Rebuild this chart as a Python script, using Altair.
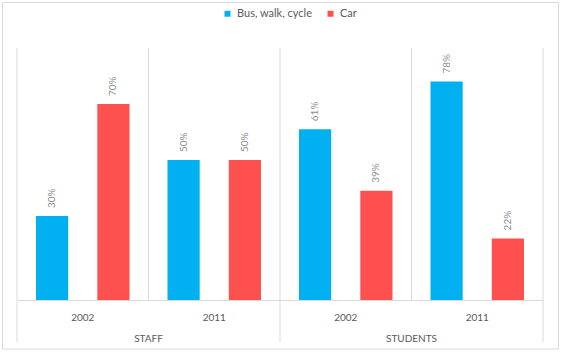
import altair as alt
import pandas as pd

groups = ["STAFF", "STAFF", "STUDENTS", "STUDENTS"]
years = ["2002", "2011", "2002", "2011"]
bus = [30, 50, 61, 78]
car = [70, 50, 39, 22]
series = ["Bus, walk, cycle", "Car"]
colors = ["#00B0F0", "#FF5050"]

keys = [g + "|" + y for g, y in zip(groups, years)]
rows = []
for k, g, yr, b, c in zip(keys, groups, years, bus, car):
    rows.append({"key": k, "group": g, "year": yr, "series": series[0], "value": b, "label": f"{b}%"})
    rows.append({"key": k, "group": g, "year": yr, "series": series[1], "value": c, "label": f"{c}%"})
df = pd.DataFrame(rows)

sep_df = pd.DataFrame({"key": keys, "long": [True, False, True, False]})
grp_df = pd.DataFrame({"key": [keys[1], keys[3]], "group": [groups[0], groups[2]]})
one = pd.DataFrame({"a": [1]})

W, H = 526, 252
FONT = "Lato"
GRID = "#D9D9D9"

xscale = alt.Scale(domain=keys, paddingInner=0, paddingOuter=0)
xaxis = alt.Axis(title=None, labelExpr="split(datum.label, '|')[1]", ticks=False,
                 domain=True, domainColor=GRID, labelPadding=12, labelFontSize=10,
                 labelColor="#595959", labelFont=FONT, labelAngle=0, grid=False)
xoff = alt.XOffset("series:N", scale=alt.Scale(domain=series, paddingInner=0.475, paddingOuter=0.31))
yenc = alt.Y("value:Q", scale=alt.Scale(domain=[0, 90]), axis=None)

bars = alt.Chart(df).mark_bar().encode(
    x=alt.X("key:N", scale=xscale, axis=xaxis),
    xOffset=xoff,
    y=yenc,
    color=alt.Color("series:N", scale=alt.Scale(domain=series, range=colors),
                    legend=alt.Legend(orient="none", legendX=205, legendY=-40,
                                      direction="horizontal", title=None,
                                      symbolType="square", symbolSize=36,
                                      symbolStrokeWidth=0, labelFont=FONT,
                                      labelFontSize=11, labelColor="#595959",
                                      columnPadding=12)),
)

labels = alt.Chart(df).mark_text(angle=270, align="left", baseline="middle", dx=8,
                                 fontSize=10, color="#8C8C8C", font=FONT).encode(
    x=alt.X("key:N", scale=xscale, axis=xaxis),
    xOffset=xoff,
    y=yenc,
    text="label:N",
)

seps = alt.Chart(sep_df).mark_rule(color=GRID, strokeWidth=1).encode(
    x=alt.X("key:N", bandPosition=0, scale=xscale, axis=xaxis),
    y=alt.value(0),
    y2=alt.value(H),
)
seps_long = alt.Chart(sep_df).transform_filter("datum.long").mark_rule(color=GRID, strokeWidth=1).encode(
    x=alt.X("key:N", bandPosition=0, scale=xscale, axis=xaxis),
    y=alt.value(H),
    y2=alt.value(294),
)
right_rule = alt.Chart(one).mark_rule(color=GRID, strokeWidth=1).encode(
    x=alt.value(W), y=alt.value(0), y2=alt.value(294)
)

grp_text = alt.Chart(grp_df).mark_text(fontSize=10, color="#595959", font=FONT,
                                       baseline="middle").encode(
    x=alt.X("key:N", bandPosition=0, scale=xscale, axis=xaxis),
    y=alt.value(291),
    text="group:N",
)

border = alt.Chart(one).mark_rect(fillOpacity=0, stroke=GRID, strokeWidth=1).encode(
    x=alt.value(-14.5), x2=alt.value(541.5), y=alt.value(-45.5), y2=alt.value(301)
)

chart = alt.layer(border, seps, seps_long, right_rule, bars, labels, grp_text).properties(
    width=W, height=H,
    padding={"left": 17, "top": 48, "right": 18, "bottom": 54},
    autosize=alt.AutoSizeParams(type="none"),
).configure_view(stroke=None)

chart.save("out.html", embed_options={"renderer": "svg", "actions": False})
